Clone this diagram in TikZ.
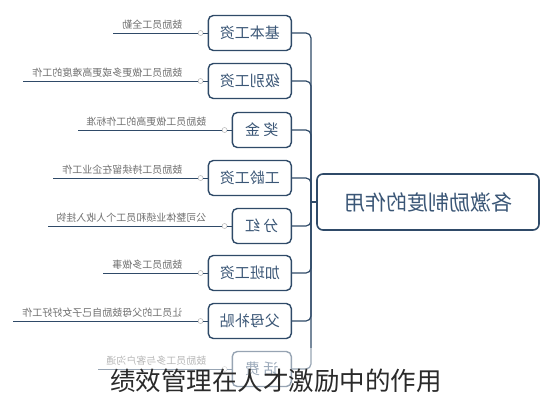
\documentclass[tikz,border=0pt]{standalone}
\usepackage{fontspec}
\usepackage{graphicx}
\setmainfont{Noto Sans CJK SC}
\definecolor{navy}{HTML}{2F4A68}
\definecolor{boxtext}{HTML}{3A5676}
\definecolor{labgray}{HTML}{707070}
\definecolor{capcol}{HTML}{2A2A2A}
\tikzset{
  catbox/.style={draw=navy, line width=1.4pt, rounded corners=5pt, fill=white, minimum height=35pt, inner sep=0pt, text=boxtext, font=\fontsize{15}{15}\selectfont},
  widebox/.style={catbox, minimum width=83pt},
  narrowbox/.style={catbox, minimum width=59pt},
  mainbox/.style={draw=navy, line width=1.6pt, rounded corners=6pt, fill=white, minimum width=222pt, minimum height=56pt, inner sep=0pt, text=boxtext, font=\fontsize{21}{21}\selectfont},
  conn/.style={draw=navy, line width=1.2pt, rounded corners=5pt},
  leafline/.style={draw=navy, line width=1pt},
  knob/.style={circle, draw=gray!60, fill=white, line width=0.5pt, minimum size=5pt, inner sep=0pt},
  leaftext/.style={anchor=south east, inner sep=0pt, text=labgray, font=\fontsize{10}{10}\selectfont},
  caption/.style={text=capcol, font=\fontsize{25.5}{26}\selectfont, inner sep=0pt}
}
\begin{document}
\begin{tikzpicture}[x=1pt,y=-1pt]
\useasboundingbox (0,0) rectangle (552,400);
\fill[white] (0,0) rectangle (552,400);
\coordinate (J) at (311,202);
\node[mainbox] (C) at (428,202) {\reflectbox{各激励制度的作用}};
\draw[conn] (J) -- (C.west);
% branch boxes
\foreach \n/\t/\cy/\st/\lab/\lx in {
  b1/基本工资/33/widebox/鼓励员工全勤/113,
  b2/级别工资/81/widebox/鼓励员工做更多或更高难度的工作/23,
  b3/奖\ 金/130/narrowbox/鼓励员工做更高的工作标准/78,
  b4/工龄工资/178/widebox/鼓励员工持续留在企业工作/53,
  b5/分\ 红/226/narrowbox/公司整体业绩和员工个人收入挂钩/48,
  b6/加班工资/273/widebox/鼓励员工多做事/103,
  b7/父母补贴/321/widebox/让员工的父母鼓励自己子女好好工作/13,
  b8/话\ 费/369/narrowbox/鼓励员工多与客户沟通/98}
{
  \node[\st, anchor=east] (\n) at (292,\cy) {\reflectbox{\t}};
  \draw[conn] (\n.east) -| (J);
  \coordinate (\n-end) at (\lx,\cy);
  \node[knob] (\n-k) at ([xshift=-7pt]\n.west) {};
  \draw[leafline] (\n-end) -- (\n-k.west);
  \draw[leafline] (\n-k.east) -- (\n.west);
  \node[leaftext] (\n-l) at ([xshift=-25pt,yshift=3pt]\n.west) {\reflectbox{\lab}};
}
\fill[white, opacity=0.5] (0,348) rectangle (552,400);
\node[caption] (cap) at (276,381) {绩效管理在人才激励中的作用};
\end{tikzpicture}
\end{document}
